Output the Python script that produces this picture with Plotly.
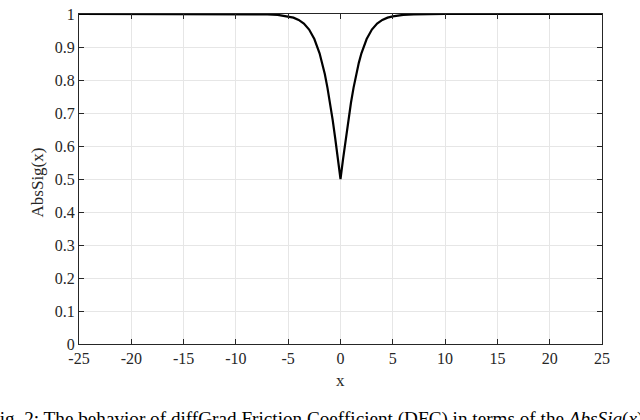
import plotly.graph_objects as go

# values
x_vals = [-25, -15, -10, -8, -7, -6, -5, -4.5, -4, -3.5, -3, -2.5, -2, -1.75, -1.5, -1.25, -1, -0.75, -0.5, -0.25, 0,
          0.25, 0.5, 0.75, 1, 1.25, 1.5, 1.75, 2, 2.5, 3, 3.5, 4, 4.5, 5, 6, 7, 8, 10, 15, 25]
y_vals = [1.0, 1.0, 1.0, 0.9997, 0.999, 0.9975, 0.993, 0.989, 0.982, 0.971, 0.953, 0.924, 0.881, 0.852, 0.818, 0.777,
          0.731, 0.679, 0.622, 0.562, 0.5,
          0.562, 0.622, 0.679, 0.731, 0.777, 0.818, 0.852, 0.881, 0.924, 0.953, 0.971, 0.982, 0.989, 0.993, 0.9975,
          0.999, 0.9997, 1.0, 1.0, 1.0]

x_ticks = [-25, -20, -15, -10, -5, 0, 5, 10, 15, 20, 25]
x_tick_text = ["-25", "-20", "-15", "-10", "-5", "0", "5", "10", "15", "20", "25"]
y_ticks = [0, 0.1, 0.2, 0.3, 0.4, 0.5, 0.6, 0.7, 0.8, 0.9, 1]
y_tick_text = ["0", "0.1", "0.2", "0.3", "0.4", "0.5", "0.6", "0.7", "0.8", "0.9", "1"]

caption = "Fig. 2: The behavior of diffGrad Friction Coefficient (DFC) in terms of the <i>AbsSig</i>(<i>x</i>)"

font = "Liberation Serif, Times New Roman, serif"

fig = go.Figure()
fig.add_trace(go.Scatter(x=x_vals, y=y_vals, mode="lines", line=dict(color="black", width=2.2), showlegend=False,
                         cliponaxis=False))

axis_style = dict(showline=True, linecolor="#262626", linewidth=1, mirror="ticks", ticks="inside", ticklen=5,
                  tickcolor="#262626", showgrid=True, gridcolor="#e6e6e6", gridwidth=1, zeroline=False,
                  ticklabeloverflow="allow", tickfont=dict(family=font, size=16, color="#262626"))

fig.update_xaxes(range=[-25, 25], tickvals=x_ticks, ticktext=x_tick_text, **axis_style)
fig.update_yaxes(range=[0, 1], tickvals=y_ticks, ticktext=y_tick_text, **axis_style)

fig.add_annotation(text="x", xref="paper", yref="paper", x=0.5, y=-0.112, showarrow=False, yanchor="middle",
                   font=dict(family=font, size=17, color="#262626"))
fig.add_annotation(text="AbsSig(x)", xref="paper", yref="paper", x=-0.08, y=0.49, showarrow=False, textangle=-90,
                   xanchor="center", yanchor="middle", font=dict(family=font, size=17, color="#262626"))
fig.add_annotation(text=caption, xref="paper", yref="paper", x=-0.176, y=-0.228, showarrow=False,
                   xanchor="left", yanchor="middle", font=dict(family=font, size=19.2, color="black"))

fig.update_layout(width=640, height=420, margin=dict(l=79, r=38, t=6, b=76), plot_bgcolor="white",
                  paper_bgcolor="white")

fig.write_html("out.html", config={"displayModeBar": False},
               post_script="document.body.style.margin='0px';")
